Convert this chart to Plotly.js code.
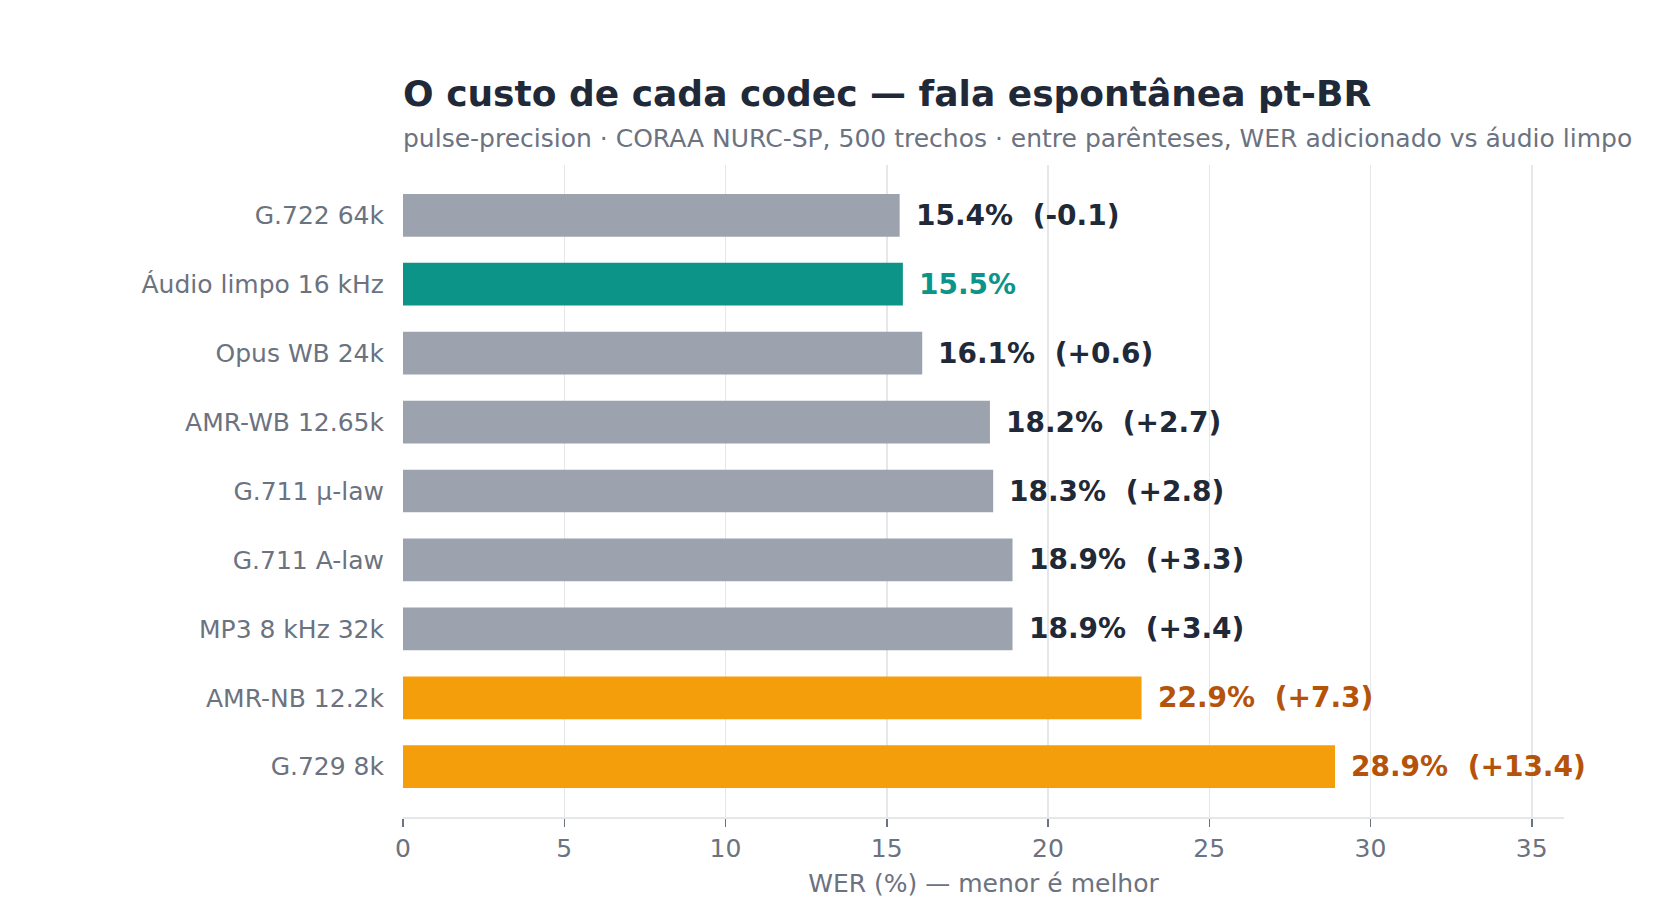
<!DOCTYPE html>
<html>
<head>
<meta charset="utf-8">
<script src="https://cdn.plot.ly/plotly-3.0.1.min.js"></script>
<style>
  html, body { margin: 0; padding: 0; background: #fff; }
  #chart { width: 1680px; height: 919px; }
</style>
</head>
<body>
<div id="chart"></div>
<script>
// Codec cost chart: WER per codec, horizontal bars with value + delta labels.
const codecs = [
  "G.722 64k",
  "Áudio limpo 16 kHz",
  "Opus WB 24k",
  "AMR-WB 12.65k",
  "G.711 µ-law",
  "G.711 A-law",
  "MP3 8 kHz 32k",
  "AMR-NB 12.2k",
  "G.729 8k",
];
const wer = [15.4, 15.5, 16.1, 18.2, 18.3, 18.9, 18.9, 22.9, 28.9];
const delta = [-0.1, null, 0.6, 2.7, 2.8, 3.3, 3.4, 7.3, 13.4];
// "base" = clean audio reference, "bad" = codecs adding a lot of WER
const group = ["ok", "base", "ok", "ok", "ok", "ok", "ok", "bad", "bad"];
const xTicks = [0, 5, 10, 15, 20, 25, 30, 35];

const BAR_COLORS = { ok: "#9ca3af", base: "#0d9488", bad: "#f59e0b" };
const TEXT_COLORS = { ok: "#1f2937", base: "#0d9488", bad: "#b45309" };

const FONT = "DejaVu Sans, sans-serif";
const MUTED = "#6b7280";
const GRID = "#e5e7eb";

function labelFor(i) {
  const v = wer[i].toFixed(1) + "%";
  if (delta[i] == null) return v;
  const d = (delta[i] > 0 ? "+" : "") + delta[i].toFixed(1);
  return v + " \u00a0(" + d + ")";
}

const annotations = codecs.map((c, i) => ({
  x: wer[i], y: c, xref: "x", yref: "y",
  text: "<b>" + labelFor(i) + "</b>",
  showarrow: false,
  xanchor: "left", yanchor: "middle",
  xshift: 14,
  font: { family: FONT, size: 28, color: TEXT_COLORS[group[i]] },
}));

annotations.push({
  text: "pulse-precision · CORAA NURC-SP, 500 trechos · entre parênteses, WER adicionado vs áudio limpo",
  xref: "paper", yref: "paper",
  x: 0, y: 1.04, xanchor: "left", yanchor: "middle",
  xshift: -2,
  showarrow: false,
  font: { family: FONT, size: 25, color: MUTED },
});

Plotly.newPlot(
  "chart",
  [
    {
      type: "bar", orientation: "h",
      x: wer, y: codecs,
      width: 0.62,
      marker: { color: group.map((g) => BAR_COLORS[g]) },
      hoverinfo: "skip",
    },
  ],
  {
    width: 1680, height: 919,
    paper_bgcolor: "#ffffff",
    plot_bgcolor: "#ffffff",
    font: { family: FONT, size: 25, color: MUTED },
    margin: { t: 165, r: 116, b: 102, l: 403 },
    showlegend: false,
    title: {
      text: "<b>O custo de cada codec — fala espontânea pt-BR</b>",
      font: { family: FONT, size: 36, color: "#1f2937" },
      xref: "paper", x: 0, xanchor: "left",
      yref: "container", y: 1 - 93 / 919, yanchor: "middle",
    },
    xaxis: {
      range: [0, 36],
      tickvals: xTicks,
      showgrid: true, gridcolor: GRID, gridwidth: 1.5,
      zeroline: false,
      showline: true, linecolor: GRID, linewidth: 2,
      ticks: "outside", ticklen: 8, tickwidth: 1.5, tickcolor: MUTED,
      tickfont: { family: FONT, size: 25, color: MUTED },
      title: { text: "WER (%) — menor é melhor", standoff: 12, font: { family: FONT, size: 25, color: MUTED } },
    },
    yaxis: {
      type: "category",
      categoryorder: "array", categoryarray: codecs,
      range: [8.73, -0.73],
      showgrid: false, zeroline: false, showline: false,
      ticks: "outside", ticklen: 13, tickcolor: "rgba(0,0,0,0)",
      tickfont: { family: FONT, size: 25, color: MUTED },
    },
    annotations,
  },
  { displayModeBar: false, staticPlot: true }
);
</script>
</body>
</html>
